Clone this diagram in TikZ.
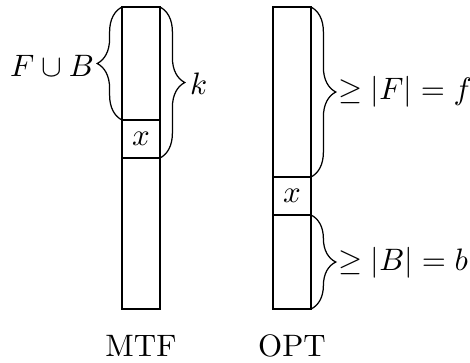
\documentclass[tikz,border=0pt]{standalone}
\usetikzlibrary{decorations.pathreplacing}
\begin{document}
\begin{tikzpicture}[x=0.3226pt, y=0.3226pt,
  col/.style={draw, line width=0.4pt},
  br/.style={decorate, decoration={brace, amplitude=8pt}, line width=0.4pt},
  lab/.style={inner sep=0.5pt}]
\useasboundingbox (0,0) rectangle (470,-362);
% MTF column
\coordinate (mtl) at (122,-7);
\coordinate (mtr) at (160,-7);
\coordinate (mxl) at (122,-120);
\coordinate (mxr) at (160,-158);
\draw[col] (122,-7) rectangle (160,-309);
\draw[col] (mxl) rectangle (mxr);
\node (mx) at (141,-139) {$x$};
% OPT column
\coordinate (otl) at (273,-7);
\coordinate (otr) at (311,-7);
\coordinate (oxl) at (273,-177);
\coordinate (oxr) at (311,-215);
\coordinate (obr) at (311,-309);
\draw[col] (273,-7) rectangle (311,-309);
\draw[col] (oxl) rectangle (oxr);
\node (ox) at (292,-196) {$x$};
% braces
\draw[br] (mxl) -- (mtl);
\node[lab, anchor=east] (fb) at (96,-66) {$F\cup B$};
\draw[br] (mtr) -- (mxr);
\node[lab, anchor=west] (k) at (188,-84) {$k$};
\draw[br] (otr) -- (311,-177);
\node[lab, anchor=west] (ff) at (336,-92) {$\geq |F| = f$};
\draw[br] (oxr) -- (obr);
\node[lab, anchor=west] (bb) at (336,-263) {$\geq |B| = b$};
% captions
\node (mtf) at (141,-346) {MTF};
\node (opt) at (292,-346) {OPT};
\end{tikzpicture}
\end{document}
